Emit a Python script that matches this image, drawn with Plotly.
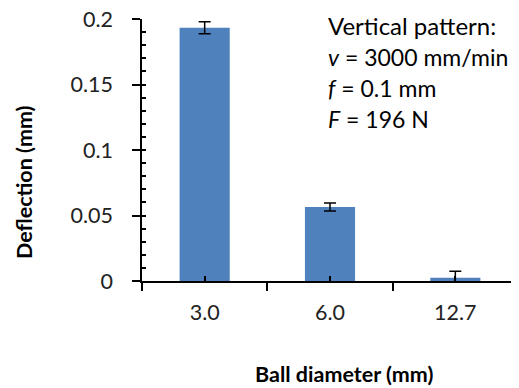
import plotly.graph_objects as go

categories = ["3.0", "6.0", "12.7"]
deflection = [0.1933, 0.0565, 0.0025]
errors = [0.0046, 0.003, 0.005]

y_tickvals = [0, 0.05, 0.1, 0.15, 0.2]
y_ticktext = ["0", "0.05", "0.1", "0.15", "0.2"]

info_lines = ["Vertical pattern:", "<i>v</i> = 3000 mm/min", "<i>f</i> = 0.1 mm", "<i>F</i> = 196 N"]

FONT = "Lato"
OFF = 8  # page body margin
W, H = 519 - OFF, 388 - OFF
# plot area in screen pixels: x 142..518, y 19..281
L, T = 142 - OFF, 19 - OFF
R = W - (518 - OFF)
B = H - (281 - OFF)
PW, PH = W - L - R, H - T - B


def px(x):
    return (x - OFF - L) / PW


def py(y):
    return 1 - (y - OFF - T) / PH


fig = go.Figure()
fig.add_trace(go.Bar(
    x=categories, y=deflection, width=0.4,
    marker=dict(color="#4F81BD", line=dict(width=0)),
    error_y=dict(type="data", array=errors, symmetric=True,
                 color="black", thickness=1.5, width=6),
    hoverinfo="skip", showlegend=False,
))
# invisible helper trace to draw inner tick marks
fig.add_trace(go.Scatter(
    x=categories, y=deflection, xaxis="x2", yaxis="y2",
    mode="markers", marker=dict(opacity=0), hoverinfo="skip", showlegend=False,
))

annotations = [
    dict(text="<b>Deflection (mm)</b>", xref="paper", yref="paper",
         x=px(24), y=py(182), textangle=-90,
         showarrow=False, font=dict(family=FONT, size=21.5, color="black"),
         xanchor="center", yanchor="middle"),
    dict(text="<b>Ball diameter (mm)</b>", xref="paper", yref="paper",
         x=px(344), y=py(374),
         showarrow=False, font=dict(family=FONT, size=21.5, color="black"),
         xanchor="center", yanchor="middle"),
]
for i, (line, yc) in enumerate(zip(info_lines, [26, 57, 88, 119])):
    annotations.append(dict(
        text=line, xref="paper", yref="paper", x=px(326), y=py(yc),
        showarrow=False, align="left", xanchor="left", yanchor="middle",
        font=dict(family=FONT, size=24 if i == 0 else 23, color="black")))

fig.update_layout(
    width=W, height=H,
    margin=dict(l=L, r=R, t=T, b=B, autoexpand=False),
    plot_bgcolor="white", paper_bgcolor="white",
    font=dict(family=FONT, size=21, color="black"),
    xaxis=dict(
        type="category", categoryorder="array", categoryarray=categories,
        range=[-0.5, 2.5], tickson="boundaries", automargin=False,
        ticks="outside", ticklen=8, tickwidth=1.5, tickcolor="black",
        showline=True, linecolor="black", linewidth=1.5,
        showgrid=False, zeroline=False,
        ticklabelstandoff=11, ticklabeloverflow="allow",
        tickfont=dict(family=FONT, size=21.5, color="#222"),
    ),
    yaxis=dict(
        range=[0, 0.2], tickvals=y_tickvals, ticktext=y_ticktext,
        automargin=False,
        ticks="outside", ticklen=8, tickwidth=1.5, tickcolor="black",
        showline=True, linecolor="black", linewidth=1.5,
        showgrid=False, zeroline=False,
        ticklabelstandoff=15, ticklabeloverflow="allow",
        tickfont=dict(family=FONT, size=21.5, color="#222"),
    ),
    xaxis2=dict(
        type="category", categoryorder="array", categoryarray=categories,
        range=[-0.5, 2.5], overlaying="x", side="bottom", automargin=False,
        ticks="inside", ticklen=5, tickwidth=1.5, tickcolor="black",
        showticklabels=False, showline=False, showgrid=False, zeroline=False,
    ),
    yaxis2=dict(
        range=[0, 0.2], overlaying="y", side="left", dtick=0.01, automargin=False,
        ticks="inside", ticklen=4, tickwidth=1.5, tickcolor="black",
        showticklabels=False, showline=False, showgrid=False, zeroline=False,
    ),
    annotations=annotations,
)

fig.write_html("out.html")
